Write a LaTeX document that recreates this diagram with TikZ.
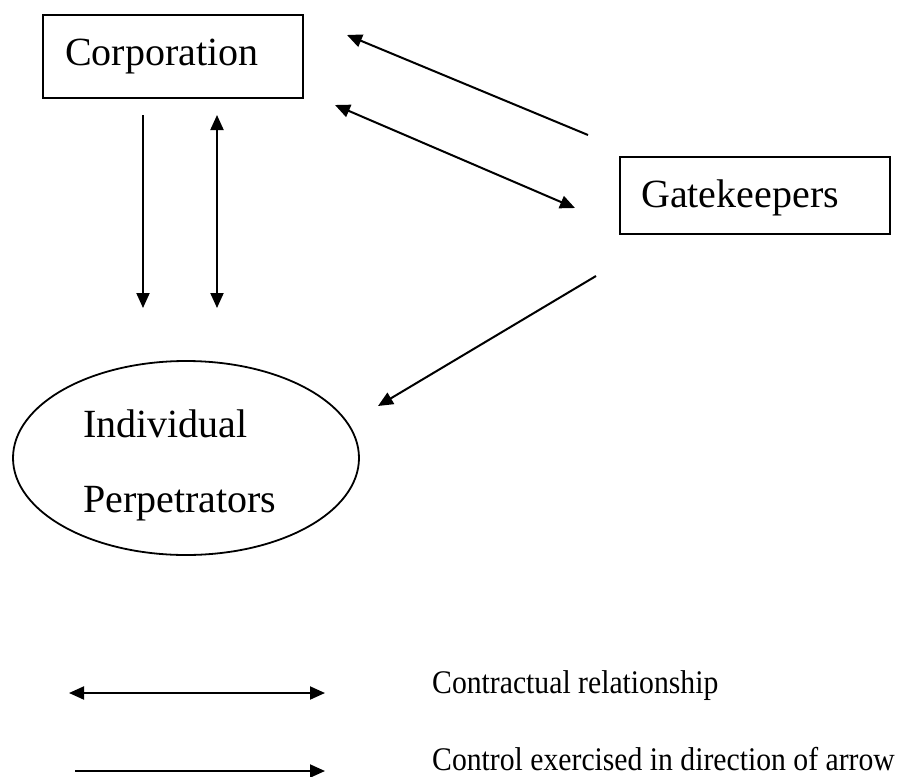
\documentclass[tikz,border=0pt]{standalone}
\usepackage{fontspec}
\setmainfont{Liberation Serif}
\newfontfamily\legendfont[FakeStretch=0.9]{Liberation Serif}
\usetikzlibrary{arrows.meta,shapes.geometric}
\begin{document}
\begin{tikzpicture}[x=1pt,y=-1pt,
  boxshape/.style={draw, line width=2pt, rectangle, inner sep=0pt},
  bigtext/.style={font=\fontsize{40}{48}\selectfont, inner sep=0pt, anchor=base west},
  legtext/.style={font=\legendfont\fontsize{33}{40}\selectfont, inner sep=0pt, anchor=base west},
  conn/.style={line width=2pt, -{Triangle[length=15pt,width=13pt]}},
  dconn/.style={line width=2pt, {Triangle[length=15pt,width=13pt]}-{Triangle[length=15pt,width=13pt]}}
]
\useasboundingbox (0,0) rectangle (898,777);
% boxes
\node[boxshape, minimum width=260pt, minimum height=83pt] (corp) at (173,56.5) {};
\node[bigtext] (corptext) at (65,65) {Corporation};
\node[boxshape, minimum width=270pt, minimum height=77pt] (gate) at (755,195.5) {};
\node[bigtext] (gatetext) at (641,207) {Gatekeepers};
\node[draw, line width=1.8pt, ellipse, minimum width=346pt, minimum height=194pt, inner sep=0pt] (indiv) at (186,458) {};
\node[bigtext] (indivtext1) at (83,437) {Individual};
\node[bigtext] (indivtext2) at (83,512) {Perpetrators};
% connector end points
\coordinate (a1s) at (143,115); \coordinate (a1e) at (143,308);
\coordinate (a2s) at (217,115); \coordinate (a2e) at (217,308);
\coordinate (a3s) at (588,135); \coordinate (a3e) at (347,35);
\coordinate (a4s) at (335,105); \coordinate (a4e) at (575,208);
\coordinate (a5s) at (596,276); \coordinate (a5e) at (378,406);
\draw[conn] (a1s) -- (a1e);
\draw[dconn] (a2s) -- (a2e);
\draw[conn] (a3s) -- (a3e);
\draw[dconn] (a4s) -- (a4e);
\draw[conn] (a5s) -- (a5e);
% legend
\coordinate (l1s) at (69,693); \coordinate (l1e) at (325,693);
\coordinate (l2s) at (75,771); \coordinate (l2e) at (325,771);
\draw[dconn] (l1s) -- (l1e);
\draw[conn] (l2s) -- (l2e);
\node[legtext] (leg1) at (432,693) {Contractual relationship};
\node[legtext] (leg2) at (432,770) {Control exercised in direction of arrow};
\end{tikzpicture}
\end{document}
